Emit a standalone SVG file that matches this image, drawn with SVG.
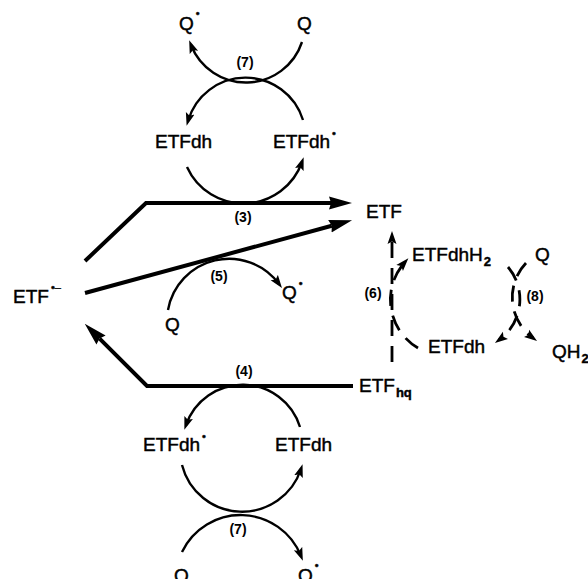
<svg xmlns="http://www.w3.org/2000/svg" width="588" height="579" viewBox="0 0 588 579">
  <style>
    .t { font-family: "Liberation Sans", Arial, sans-serif; font-size: 19px; fill: #000; stroke: #000; stroke-width: 0.45px; }
    .n { font-family: "Liberation Sans", Arial, sans-serif; font-size: 14px; font-weight: bold; fill: #000; text-anchor: middle; }
    .sup { font-size: 11px; }
    .sub { font-size: 13px; font-weight: bold; }
    .thick { fill: none; stroke: #000; stroke-width: 4; stroke-linejoin: miter; }
    .thin { fill: none; stroke: #000; stroke-width: 2.4; }
    .dash { fill: none; stroke: #000; stroke-width: 2.8; stroke-dasharray: 16 10; }
  </style>
  <defs>
    <marker id="big" viewBox="0 -7 23 14" refX="2" refY="0" markerWidth="23" markerHeight="14" markerUnits="userSpaceOnUse" orient="auto">
      <path d="M0,-6.5 L23,0 L0,6.5 L2,0 Z" fill="#000"/>
    </marker>
    <marker id="small" viewBox="0 -5 13 10" refX="8" refY="0" markerWidth="13" markerHeight="10" markerUnits="userSpaceOnUse" orient="auto">
      <path d="M0,-4.5 L13,0 L0,4.5 L2.5,0 Z" fill="#000"/>
    </marker>
  </defs>

  <g id="connectors">
    <!-- reaction (3): ETF.- to ETF, thick bent arrow -->
    <path class="thick" d="M85,261 L146,203 L331,203" marker-end="url(#big)"/>
    <!-- reaction (5): ETF.- to ETF, straight thick arrow -->
    <path class="thick" d="M85,293 L331.8,225.8" marker-end="url(#big)"/>
    <!-- reaction (4): ETFhq back to ETF.- -->
    <path class="thick" d="M353,386 L147,386 L99.6,338.6" marker-end="url(#big)"/>

    <!-- upper cycle (7): Q to Q. -->
    <path class="thin" d="M302,42 A59,59 0 0 1 191,45" marker-end="url(#small)"/>
    <!-- ETFdh. to ETFdh -->
    <path class="thin" d="M303,120 A60,60 0 0 0 188,121" marker-end="url(#small)"/>
    <!-- ETFdh to ETFdh. coupled with (3) -->
    <path class="thin" d="M187,167 A62,62 0 0 0 302,162" marker-end="url(#small)"/>

    <!-- reaction (5): Q to Q. -->
    <path class="thin" d="M168,310 A62,62 0 0 1 279,284" marker-end="url(#small)"/>

    <!-- lower cycle coupled with (4) -->
    <path class="thin" d="M300,427 A60,60 0 0 0 186,425" marker-end="url(#small)"/>
    <path class="thin" d="M182,465 A62,62 0 0 0 301,469" marker-end="url(#small)"/>
    <!-- lower cycle (7): Q to Q. -->
    <path class="thin" d="M182,552 A65,65 0 0 1 301,556" marker-end="url(#small)"/>

    <!-- reaction (6): ETFhq to ETF, dashed -->
    <path class="dash" d="M392,362 L392,236" marker-end="url(#small)"/>
    <path class="dash" d="M418,348 A56,56 0 0 1 405,262" marker-end="url(#small)"/>

    <!-- reaction (8): ETFdhH2 to ETFdh and Q to QH2, dashed -->
    <path class="dash" d="M508,267 A50,50 0 0 1 499,340" marker-end="url(#small)"/>
    <path class="dash" d="M526,263 A50,50 0 0 0 533,338" marker-end="url(#small)"/>
  </g>

  <g id="q-top-left"><text class="t" x="179" y="30">Q<tspan class="sup" dx="2" dy="-13">•</tspan></text></g>
  <g id="q-top-right"><text class="t" x="297" y="30">Q</text></g>
  <g id="label-7-top"><text class="n" x="245" y="67">(7)</text></g>
  <g id="etfdh-top"><text class="t" x="155" y="148">ETFdh</text></g>
  <g id="etfdh-radical-top"><text class="t" x="273" y="148">ETFdh<tspan class="sup" dx="2" dy="-11">•</tspan></text></g>
  <g id="label-3"><text class="n" x="243" y="222">(3)</text></g>
  <g id="etf"><text class="t" x="366" y="218">ETF</text></g>
  <g id="label-5"><text class="n" x="219" y="281">(5)</text></g>
  <g id="etf-semiquinone"><text class="t" x="13" y="303">ETF<tspan class="sup" dx="2" dy="-12">•–</tspan></text></g>
  <g id="q-5"><text class="t" x="165" y="331">Q</text></g>
  <g id="q-radical-5"><text class="t" x="282" y="299">Q<tspan class="sup" dx="2" dy="-12">•</tspan></text></g>
  <g id="label-6"><text class="n" x="373" y="298">(6)</text></g>
  <g id="etfdhh2"><text class="t" x="412" y="261">ETFdhH<tspan class="sub" dx="1" dy="5">2</tspan></text></g>
  <g id="q-8"><text class="t" x="535" y="261">Q</text></g>
  <g id="label-8"><text class="n" x="535" y="301">(8)</text></g>
  <g id="etfdh-8"><text class="t" x="428" y="353">ETFdh</text></g>
  <g id="qh2"><text class="t" x="552" y="358">QH<tspan class="sub" dx="1" dy="5">2</tspan></text></g>
  <g id="label-4"><text class="n" x="244" y="376">(4)</text></g>
  <g id="etf-hq"><text class="t" x="359" y="392">ETF<tspan class="sub" dx="1" dy="5">hq</tspan></text></g>
  <g id="etfdh-radical-bottom"><text class="t" x="143" y="451">ETFdh<tspan class="sup" dx="2" dy="-11">•</tspan></text></g>
  <g id="etfdh-bottom"><text class="t" x="275" y="451">ETFdh</text></g>
  <g id="label-7-bottom"><text class="n" x="238" y="534">(7)</text></g>
  <g id="q-bottom"><text class="t" x="174" y="582">Q</text></g>
  <g id="q-radical-bottom"><text class="t" x="298" y="582">Q<tspan class="sup" dx="2" dy="-13">•</tspan></text></g>
</svg>
